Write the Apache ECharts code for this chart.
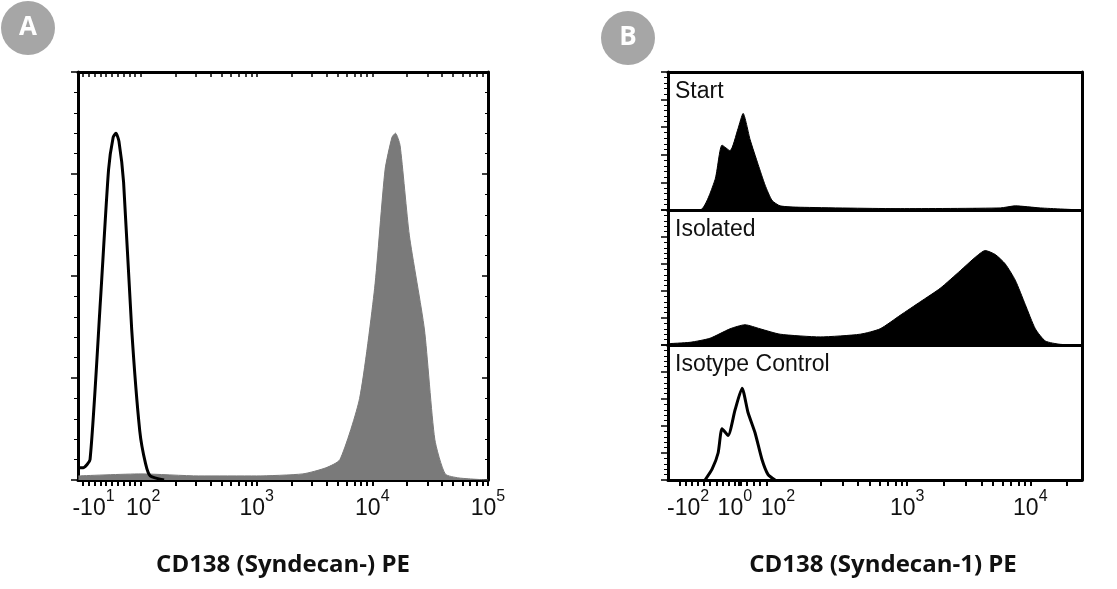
<!DOCTYPE html>
<html><head><meta charset="utf-8">
<script src="https://cdn.jsdelivr.net/npm/echarts@6/dist/echarts.min.js"></script>
<style>html,body{margin:0;background:#fff}#c{width:1117px;height:589px}</style>
</head><body><div id="c"></div>
<script>
// x values are in display decades (logicle-like axis), y values are % of panel height
let aOpenX = [1.46, 1.50, 1.56, 1.65, 1.72, 1.76, 1.784, 1.81, 1.85, 1.92, 1.99, 2.04, 2.08, 2.2];
let aOpenY = [3, 3, 5, 44, 76, 84, 85, 83, 73, 37, 12, 4, 1, 0];
let aFillX = [1.46, 2.0, 2.5, 3.0, 3.4, 3.6, 3.72, 3.89, 4.02, 4.11, 4.17, 4.2, 4.24, 4.32, 4.45, 4.54, 4.63, 4.75, 5.0];
let aFillY = [1, 1.5, 1, 1, 1.5, 3, 5, 20, 47, 76, 84, 85, 82, 60, 37, 10, 1.5, 0.5, 0];
let startX = [1.057, 1.317, 1.439, 1.496, 1.561, 1.626, 1.667, 1.724, 1.789, 1.846, 1.902, 1.968, 2.13, 2.943, 3.756, 3.878, 4.081, 4.42];
let startY = [0, 0, 22, 47, 43, 59, 70, 51, 33, 18, 7, 3, 2, 1, 1.5, 3, 1.5, 0];
let isoX = [1.057, 1.236, 1.398, 1.561, 1.683, 1.805, 1.968, 2.293, 2.618, 2.78, 2.943, 3.106, 3.268, 3.431, 3.553, 3.634, 3.716, 3.797, 3.878, 3.959, 4.041, 4.122, 4.244, 4.42];
let isoY = [1, 2, 5, 12, 15, 12, 8, 6, 8, 12, 22, 32, 42, 55, 65, 70, 67, 60, 48, 30, 12, 3, 0.5, 0];
let ctrlX = [1.358, 1.415, 1.464, 1.496, 1.545, 1.602, 1.659, 1.707, 1.764, 1.821, 1.87, 1.927];
let ctrlY = [0, 8, 20, 38, 33, 52, 68, 50, 35, 15, 4, 0];
let aLabelPos = [1.59, 2.02, 3, 4, 5];
let aLabelTxt = [['-10', '1'], ['10', '2'], ['10', '3'], ['10', '4'], ['10', '5']];
let bLabelPos = [1.22, 1.60, 1.95, 3, 4];
let bLabelTxt = [['-10', '2'], ['10', '0'], ['10', '2'], ['10', '3'], ['10', '4']];
let bTitles = ['Start', 'Isolated', 'Isotype Control'];

function decadeTicks(from, to) {
  let t = [];
  for (let d = from; d < to; d++) for (let k = 1; k < 10; k++) t.push(d + Math.log10(k));
  t.push(to);
  return t;
}
function pairs(xs, ys) { return xs.map((x, i) => [x, ys[i]]); }
let rich = { b: { fontSize: 23, fontFamily: 'Liberation Sans', color: '#111', padding: [15, 0, 0, 0] },
             s: { fontSize: 16, fontFamily: 'Liberation Sans', color: '#111', padding: [0, 0, 8, 0] } };
function labelFmt(pos, txt) {
  return function (v) {
    let i = pos.findIndex(p => Math.abs(p - v) < 1e-6);
    return i < 0 ? '' : '{b|' + txt[i][0] + '}{s|' + txt[i][1] + '}';
  };
}
let ax = { onZero: false, lineStyle: { color: '#000', width: 3 } };

let grids = [
  { left: 78, top: 72, width: 410, height: 408 },
  { left: 668, top: 72, width: 414, height: 138 },
  { left: 668, top: 210, width: 414, height: 135 },
  { left: 668, top: 345, width: 414, height: 135 }
];
let xAxis = [], yAxis = [], series = [];
let aMin = 1.456, aMax = 5.0, bMin = 1.057, bMax = 4.42;
grids.forEach((g, i) => {
  let isA = i === 0, showLab = i === 0 || i === 3;
  let mn = isA ? aMin : bMin, mx = isA ? aMax : bMax;
  let ticks = isA ? [1.5, 1.55, 1.6, 1.65, 1.7, 1.75, 1.8, 1.85, 1.9, 1.95].concat(decadeTicks(2, 5))
                  : [1.15, 1.2, 1.25, 1.3, 1.35, 1.4, 1.45, 1.5, 1.55, 1.6, 1.63, 1.65, 1.7, 1.75, 1.8, 1.86].concat(decadeTicks(2, 4).filter(v => v > 2.06)).concat([4.3]);
  xAxis.push({ type: 'value', gridIndex: i, min: mn, max: mx, axisLine: ax,
    splitLine: { show: false },
    axisTick: { show: showLab, customValues: ticks, length: 6, lineStyle: { color: '#000', width: 2 } },
    axisLabel: { show: showLab, fontSize: 23, fontFamily: 'Liberation Sans', color: '#111', hideOverlap: false,
      showMinLabel: true, showMaxLabel: true,
      customValues: isA ? aLabelPos : bLabelPos, formatter: labelFmt(isA ? aLabelPos : bLabelPos, isA ? aLabelTxt : bLabelTxt), rich: rich, margin: 2 } });
  xAxis.push({ type: 'value', gridIndex: i, position: 'top', min: mn, max: mx, axisLine: ax,
    splitLine: { show: false }, axisLabel: { show: false },
    axisTick: { show: isA, inside: true, customValues: ticks, length: 5, lineStyle: { color: '#000', width: 1.5 } } });
  yAxis.push({ type: 'value', gridIndex: i, min: 0, max: 100, interval: isA ? 25 : 20, axisLine: ax,
    splitLine: { show: false }, axisLabel: { show: false },
    axisTick: { length: 7, lineStyle: { color: '#000', width: 1.5 } },
    minorTick: { show: true, splitNumber: 5, length: 4, lineStyle: { color: '#000' } } });
  yAxis.push({ type: 'value', gridIndex: i, position: 'right', min: 0, max: 100, interval: 25, axisLine: ax,
    splitLine: { show: false }, axisLabel: { show: false },
    axisTick: { show: isA, inside: true, length: 6, lineStyle: { color: '#000', width: 1.5 } },
    minorTick: { show: isA, splitNumber: 5, length: 3, lineStyle: { color: '#000' } } });
});
function line(i, xs, ys, fill, color) {
  return { type: 'line', xAxisIndex: i * 2, yAxisIndex: i * 2, data: pairs(xs, ys), showSymbol: false,
    smooth: 0.2, lineStyle: { color: color, width: fill ? 1 : 3 },
    areaStyle: fill ? { color: color, opacity: 1 } : undefined, z: fill ? 2 : 3 };
}
series.push(line(0, aFillX, aFillY, true, '#7a7a7a'));
series.push(line(0, aOpenX, aOpenY, false, '#000'));
series.push(line(1, startX, startY, true, '#000'));
series.push(line(2, isoX, isoY, true, '#000'));
series.push(line(3, ctrlX, ctrlY, false, '#000'));

let graphic = [
  { type: 'circle', shape: { cx: 28, cy: 28, r: 27 }, style: { fill: '#a6a6a6' } },
  { type: 'text', x: 28, y: 28, style: { text: 'A', fill: '#fff', font: 'bold 26px "Open Sans"', align: 'center', verticalAlign: 'middle' } },
  { type: 'circle', shape: { cx: 628, cy: 38, r: 27 }, style: { fill: '#a6a6a6' } },
  { type: 'text', x: 628, y: 38, style: { text: 'B', fill: '#fff', font: 'bold 26px "Open Sans"', align: 'center', verticalAlign: 'middle' } },
  { type: 'text', x: 283, y: 565, style: { text: 'CD138 (Syndecan-) PE', fill: '#111', font: 'bold 24px "Open Sans"', align: 'center', verticalAlign: 'middle' } },
  { type: 'text', x: 883, y: 565, style: { text: 'CD138 (Syndecan-1) PE', fill: '#111', font: 'bold 24px "Open Sans"', align: 'center', verticalAlign: 'middle' } }
];
bTitles.forEach((t, k) => graphic.push({ type: 'text', x: 675, y: grids[k + 1].top + 8,
  style: { text: t, fill: '#111', font: '23px "Liberation Sans"' } }));

let myEchart = echarts.init(document.getElementById('c'));
myEchart.setOption({ animation: false, grid: grids, xAxis: xAxis, yAxis: yAxis, series: series, graphic: graphic });
</script>
</body></html>
